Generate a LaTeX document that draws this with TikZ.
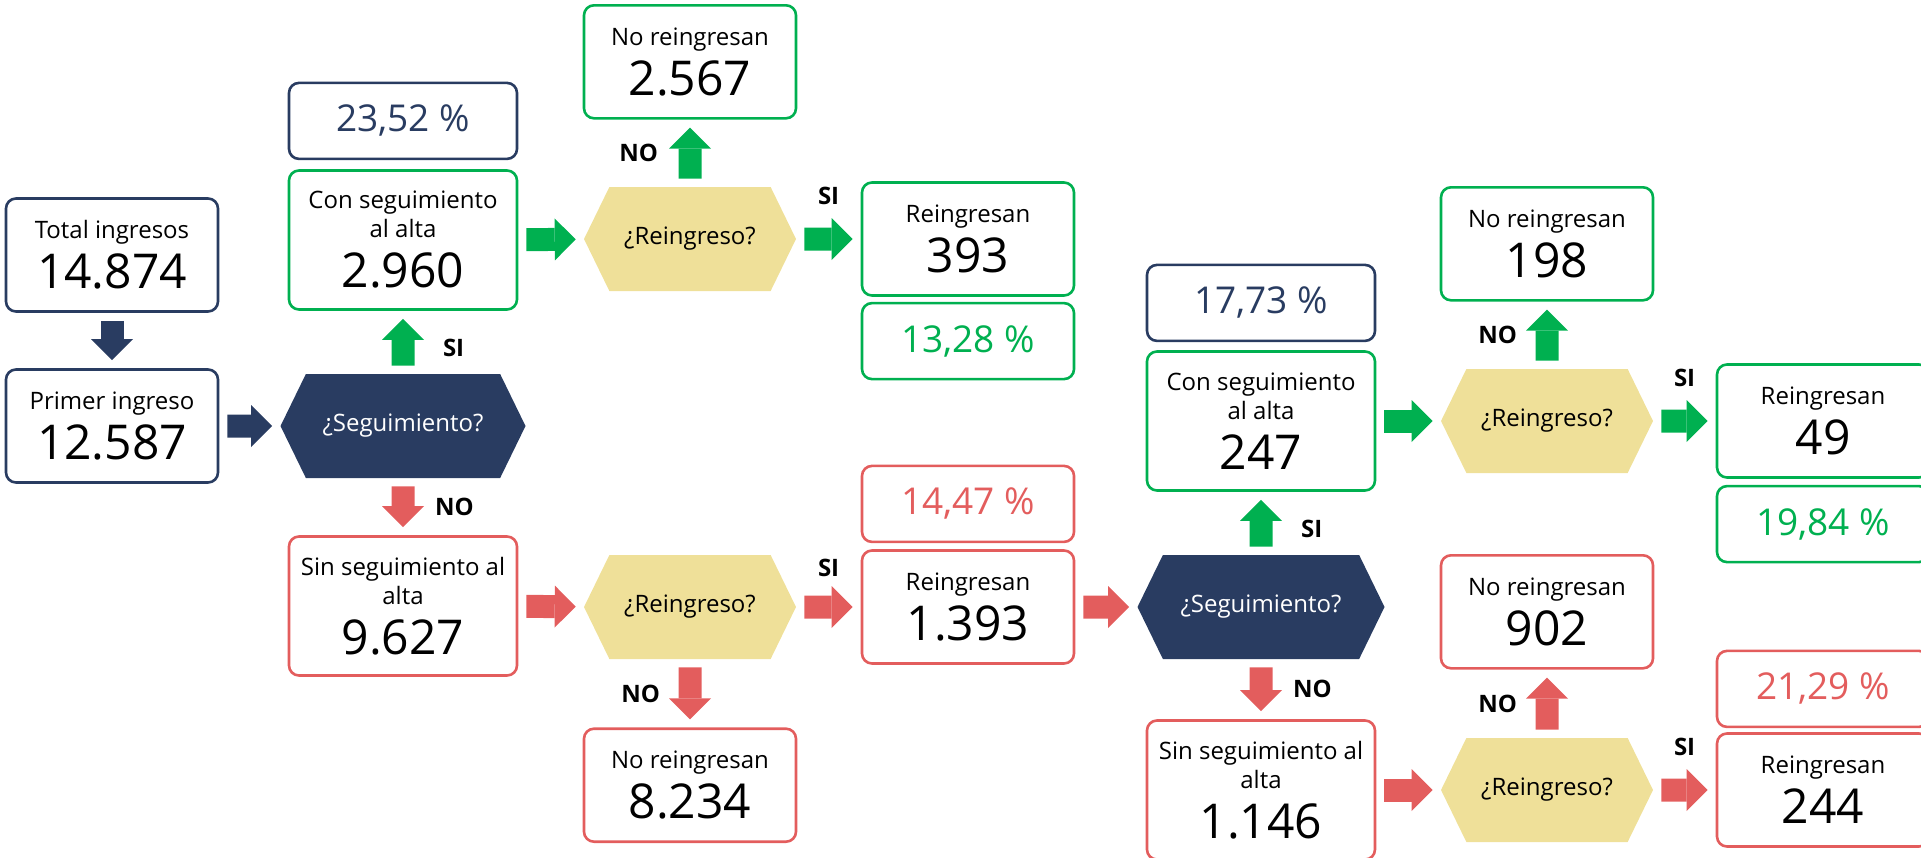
\documentclass[tikz,border=0pt]{standalone}
\usepackage{fontspec}
\setmainfont{Open Sans}
\usetikzlibrary{arrows.meta,positioning,shapes.symbols}

\definecolor{navy}{HTML}{293C61}
\definecolor{verde}{HTML}{00B050}
\definecolor{rojo}{HTML}{E35D5D}
\definecolor{arena}{HTML}{EFE099}

\newcommand{\cifra}[1]{{\fontsize{24}{24}\selectfont #1}}

\begin{document}
\begin{tikzpicture}[x=0.5pt,y=-0.5pt,
    base text/.style={font={\fontsize{12}{14.5}\selectfont\lineskiplimit=-100pt},align=center,inner sep=0pt},
    count box/.style={base text,draw=#1,line width=1.3pt,rounded corners=5pt,fill=white,
                      minimum width=106pt,minimum height=56.5pt},
    wide box/.style={count box=#1,minimum width=114pt,minimum height=69.5pt},
    pct box/.style={draw=#1,text=#1,line width=1.3pt,rounded corners=5pt,inner sep=0pt,
                    minimum width=106pt,minimum height=38pt,font=\fontsize{18.5}{20}\selectfont},
    decision/.style={signal,signal to=west and east,signal pointer angle=128,fill=#1,inner sep=0pt,
                     minimum width=106pt,minimum height=52pt,font=\fontsize{12}{14}\selectfont},
    block arrow/.style={draw=#1,line width=11.5pt,-{Triangle[length=10.5pt,width=21pt,line width=0pt]},
                        shorten <=4pt,shorten >=4pt},
    answer/.style={font=\fontsize{12}{12}\selectfont\bfseries,inner sep=0pt,outer sep=0pt}]
    \useasboundingbox (0,0) rectangle (1921,857);

    \node[count box=navy] (total) at (112,255) {Total ingresos\\[10.5pt]\cifra{14.874}};
    \node[count box=navy] (primer) at (112,426) {Primer ingreso\\[10.5pt]\cifra{12.587}};
    \node[decision=navy,text=white,minimum width=122.5pt] (seg1) at (403,426) {¿Seguimiento?};

    \node[wide box=verde] (con1) at (403,240) {Con seguimiento\\al alta\\[10.5pt]\cifra{2.960}};
    \node[pct box=navy,minimum width=114pt] (pct1) [above=4.5pt of con1] {23,52 \%};
    \node[decision=arena] (reing1) at (690,239) {¿Reingreso?};
    \node[count box=verde] (no1) [above=33.5pt of reing1] {No reingresan\\[10.5pt]\cifra{2.567}};
    \node[count box=verde] (si1) at (968,239) {Reingresan\\[10.5pt]\cifra{393}};
    \node[pct box=verde] (pct2) [below=2.5pt of si1] {13,28 \%};

    \node[wide box=rojo] (sin1) at (403,606) {Sin seguimiento al\\alta\\[10.5pt]\cifra{9.627}};
    \node[decision=arena] (reing2) at (690,607) {¿Reingreso?};
    \node[count box=rojo] (no2) [below=34pt of reing2] {No reingresan\\[10.5pt]\cifra{8.234}};
    \node[count box=rojo] (si2) at (968,607) {Reingresan\\[10.5pt]\cifra{1.393}};
    \node[pct box=rojo] (pct3) [above=3pt of si2] {14,47 \%};

    \node[decision=navy,text=white,minimum width=123.5pt] (seg2) at (1261,607) {¿Seguimiento?};

    \node[wide box=verde] (con2) at (1261,421) {Con seguimiento\\al alta\\[10.5pt]\cifra{247}};
    \node[pct box=navy,minimum width=114pt] (pct4) [above=4pt of con2] {17,73 \%};
    \node[decision=arena] (reing3) at (1547,421) {¿Reingreso?};
    \node[count box=verde] (no3) [above=33.5pt of reing3] {No reingresan\\[10.5pt]\cifra{198}};
    \node[count box=verde] (si3) at (1823,421) {Reingresan\\[10.5pt]\cifra{49}};
    \node[pct box=verde] (pct5) [below=3pt of si3] {19,84 \%};

    \node[wide box=rojo] (sin2) at (1261,790) {Sin seguimiento al\\alta\\[10.5pt]\cifra{1.146}};
    \node[decision=arena] (reing4) at (1547,790) {¿Reingreso?};
    \node[count box=rojo] (no4) [above=34pt of reing4] {No reingresan\\[10.5pt]\cifra{902}};
    \node[count box=rojo] (si4) at (1823,790) {Reingresan\\[10.5pt]\cifra{244}};
    \node[pct box=rojo] (pct6) [above=2pt of si4] {21,29 \%};

    \path
        (total) edge[block arrow=navy] (primer)
        (primer) edge[block arrow=navy] (seg1)

        (seg1)
        edge[block arrow=verde] node[answer,right=20pt,yshift=-3pt] {SI} (con1)
        edge[block arrow=rojo] node[answer,right=16pt] {NO} (sin1)

        (con1) edge[block arrow=verde] (reing1)
        (reing1)
        edge[block arrow=verde] node[answer,left=16pt] {NO} (no1)
        edge[block arrow=verde] node[answer,above=17pt] {SI} (si1)

        (sin1) edge[block arrow=rojo] (reing2)
        (reing2)
        edge[block arrow=rojo] node[answer,left=15pt] {NO} (no2)
        edge[block arrow=rojo] node[answer,above=15pt] {SI} (si2)

        (si2) edge[block arrow=rojo] (seg2)
        (seg2)
        edge[block arrow=verde] node[answer,right=20pt,yshift=-3pt] {SI} (con2)
        edge[block arrow=rojo] node[answer,right=16pt] {NO} (sin2)

        (con2) edge[block arrow=verde] (reing3)
        (reing3)
        edge[block arrow=verde] node[answer,left=15pt] {NO} (no3)
        edge[block arrow=verde] node[answer,above=17pt] {SI} (si3)

        (sin2) edge[block arrow=rojo] (reing4)
        (reing4)
        edge[block arrow=rojo] node[answer,left=15pt] {NO} (no4)
        edge[block arrow=rojo] node[answer,above=17pt] {SI} (si4);
\end{tikzpicture}
\end{document}
